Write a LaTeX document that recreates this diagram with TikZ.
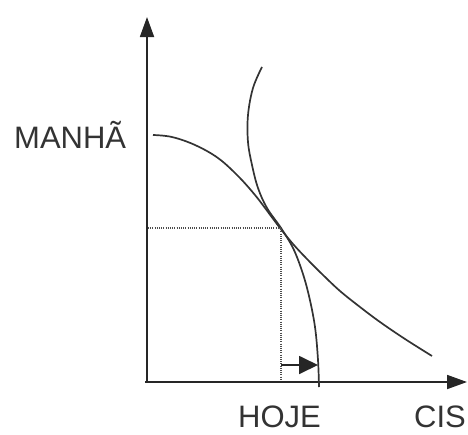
\documentclass[tikz,border=0pt]{standalone}
\usepackage{fontspec}
\setmainfont{Liberation Sans}
\usetikzlibrary{arrows.meta}
\begin{document}
\begin{tikzpicture}[x=1pt,y=-1pt,
  axis/.style={line width=1.8pt,draw=black!85,-{Triangle[length=20pt,width=14pt]}},
  curve/.style={line width=1.7pt,draw=black!80},
  guide/.style={line width=1.1pt,draw=black!70,dash pattern=on 1pt off 1.2pt},
  shiftarrow/.style={line width=1.8pt,draw=black!85,-{Triangle[length=19pt,width=18pt]}},
  lbl/.style={inner sep=0pt,font=\fontsize{31}{37}\selectfont,text=black!80}]
\useasboundingbox (0,0) rectangle (468,434);
% axes
\coordinate (O) at (147,383);
\coordinate (Ytop) at (147,17);
\coordinate (Ostart) at (145,382);
\coordinate (Xend) at (467,382);
\draw[axis] (O) -- (Ytop);
\draw[axis] (Ostart) -- (Xend);
% curves
\draw[curve] plot[smooth,tension=0.6] coordinates {(153,135) (172,137) (195,145) (218,158) (238,176) (255,195) (268,212) (280,228) (293,244) (307,259) (323,275) (340,291) (360,307) (380,322) (405,339) (432,356)};
\draw[curve] plot[smooth,tension=0.6] coordinates {(262,67) (253,88) (248,115) (248,142) (252,165) (258,188) (267,208) (281,228) (293,248) (302,271) (309,296) (315,327) (318,360) (319,387)};
% guides
\coordinate (E) at (281,228);
\coordinate (Ey) at (148,228);
\coordinate (Ex) at (281,381);
\draw[guide] (Ey) -- (E) -- (Ex);
% shift arrow
\coordinate (A0) at (281,365);
\coordinate (A1) at (318,365);
\draw[shiftarrow] (A0) -- (A1);
% labels
\node[lbl,anchor=base west] (manha) at (14,148) {MANHÃ};
\node[lbl,anchor=base west] (hoje) at (238,427) {HOJE};
\node[lbl,anchor=base west] (cis) at (414,427) {CIS};
\end{tikzpicture}
\end{document}
